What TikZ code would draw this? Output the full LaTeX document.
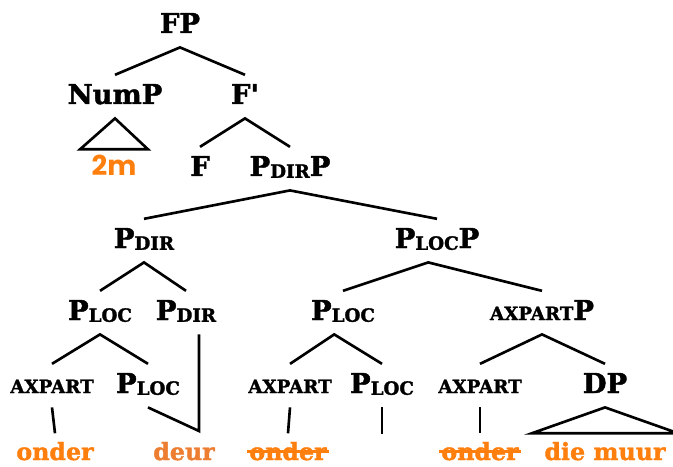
\documentclass[tikz,border=0pt]{standalone}
\usepackage{fontspec}
\setmainfont{DejaVu Serif}[BoldFeatures={FakeBold=1.6}]
\newfontfamily\numfont{Poppins}
\usepackage{tikz}
\definecolor{orange}{RGB}{255, 127, 14}
\definecolor{rust}{RGB}{237, 125, 49}
\newcommand{\lc}[1]{\raisebox{-1pt}{\fontsize{10.4}{10}\selectfont #1}}
\newcommand{\Pdir}{P\lc{DIR}}
\newcommand{\Ploc}{P\lc{LOC}}
\newcommand{\axpart}{{\fontsize{10.4}{10}\selectfont AXPART}}

\begin{document}
\begin{tikzpicture}
  [
    cat/.style={font=\fontsize{15.6}{16}\selectfont\bfseries, anchor=base, inner xsep=1pt, inner ysep=5pt, text height=11.4pt, text depth=3pt},
    word/.style={cat, font=\fontsize{13.5}{14}\selectfont\bfseries, text=orange, text height=10pt, text depth=0pt, inner ysep=5pt},
    branch/.style={line width=1.5pt},
    strike/.style={branch, orange}
  ]
  \useasboundingbox (0.0, 0.0) rectangle (13.46, 9.32);

  \node[cat] (fp) at (3.60, 8.66) {FP};
  \node[cat] (nump) at (2.30, 7.24) {NumP};
  \node[cat] (fbar) at (4.90, 7.24) {F\textquotesingle};
  \node[word, font={\numfont\fontsize{15.6}{16}\selectfont\bfseries}] (num) at (2.28, 5.80) {2m};
  \node[cat] (f) at (4.00, 5.80) {F};
  \node[cat] (pdirp) at (5.80, 5.80) {\Pdir P};
  \node[cat] (pdir) at (2.88, 4.36) {\Pdir};
  \node[cat] (plocp) at (8.74, 4.36) {\Ploc P};
  \node[cat] (plocA) at (2.00, 2.92) {\Ploc};
  \node[cat] (pdirB) at (3.72, 2.92) {\Pdir};
  \node[cat] (plocB) at (6.86, 2.92) {\Ploc};
  \node[cat] (axpartp) at (10.84, 2.92) {\axpart P};
  \node[cat] (axA) at (1.04, 1.46) {\axpart};
  \node[cat] (plocC) at (2.96, 1.46) {\Ploc};
  \node[cat] (axB) at (5.80, 1.46) {\axpart};
  \node[cat] (plocD) at (7.64, 1.46) {\Ploc};
  \node[cat] (axC) at (9.60, 1.46) {\axpart};
  \node[cat] (dp) at (12.10, 1.46) {DP};
  \node[word] (onderA) at (1.10, 0.12) {onder};
  \node[word, text=rust] (deur) at (3.68, 0.12) {deur};
  \node[word] (onderB) at (5.76, 0.12) {onder};
  \node[word] (onderC) at (9.60, 0.12) {onder};
  \node[word] (muur) at (12.10, 0.12) {die muur};

  \draw[branch] (nump.north) -- (fp.south) -- (fbar.north);
  \draw[branch] (nump.south) -- ([xshift=-5.4pt]num.north west) -- ([xshift=5.4pt]num.north east) -- cycle;
  \draw[branch] (f.north) -- (fbar.south) -- (pdirp.north);
  \draw[branch] (pdir.north) -- (pdirp.south) -- (plocp.north);
  \draw[branch] (plocA.north) -- (pdir.south) -- (pdirB.north);
  \draw[branch] (plocB.north) -- ([xshift=-5pt]plocp.south) -- (axpartp.north);
  \draw[branch] (axA.north) -- (plocA.south) -- (plocC.north);
  \draw[branch] (axB.north) -- ([xshift=-5pt]plocB.south) -- (plocD.north);
  \draw[branch] (axC.north) -- (axpartp.south) -- (dp.north);
  \draw[branch] (axA.south) -- (onderA.north);
  \draw[branch] (axB.south) -- (onderB.north);
  \draw[branch] (axC.south) -- (onderC.north);

  \coordinate (join) at (3.98, 0.70);
  \draw[branch] (plocC.south) -- (join) -- (pdirB.south -| join);
  \coordinate (trace) at (7.64, 0.64);
  \draw[branch] (plocD.south) -- (trace);
  \draw[branch] (dp.south) -- ([xshift=-6pt]muur.north west) -- ([xshift=6pt]muur.north east) -- cycle;

  \draw[strike] (onderB.west) -- (onderB.east);
  \draw[strike] (onderC.west) -- (onderC.east);
\end{tikzpicture}
\end{document}
